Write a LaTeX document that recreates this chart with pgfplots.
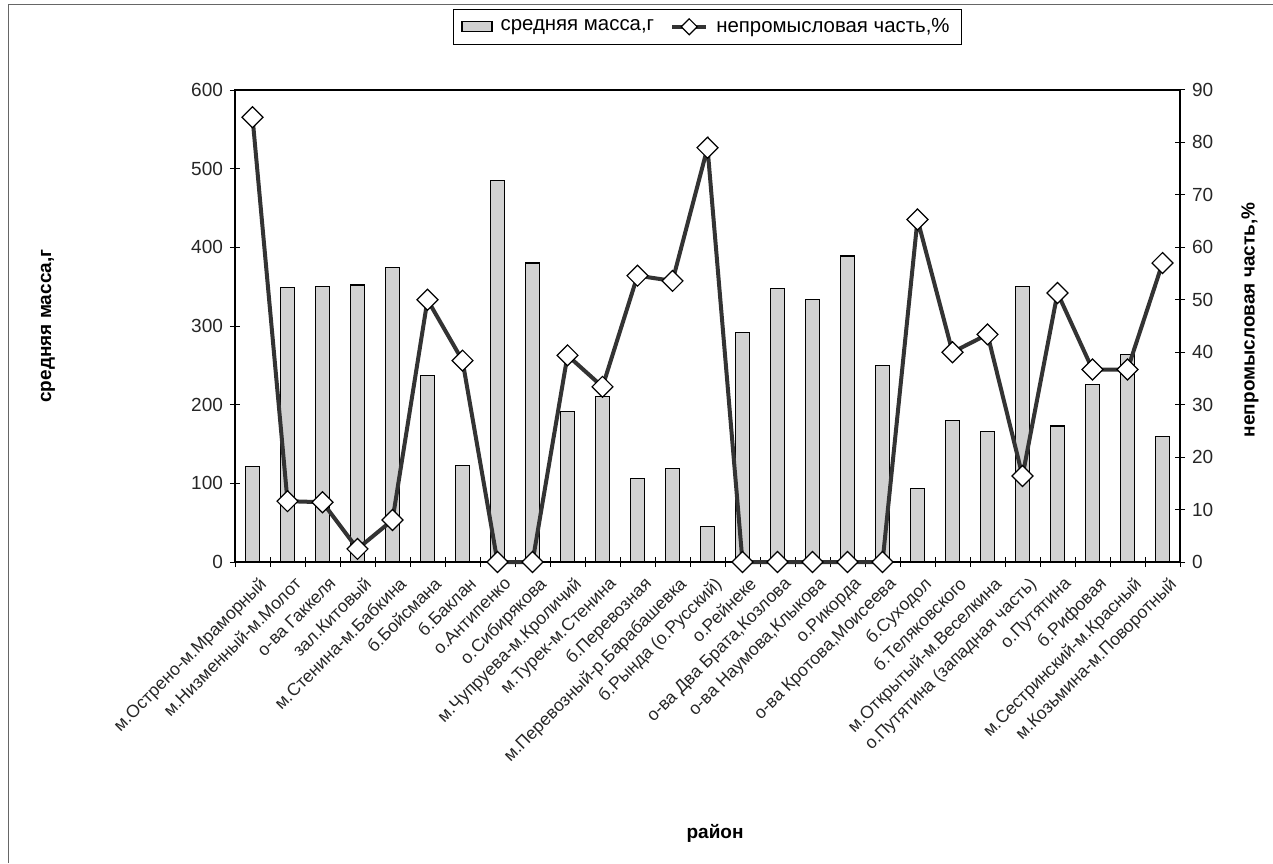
\documentclass[border=0pt]{standalone}
\usepackage{fontspec}
\setmainfont{Liberation Sans}
\usepackage{pgfplots}
\pgfplotsset{compat=1.18}
\usepackage{pgfplotstable}
\pgfplotsset{barlegend/.style={legend image code/.code={\draw[##1] (0pt,-2.5pt) rectangle (15pt,2.5pt);}}}

\pgfplotstableread{
x mass pct
1 121 84.8
2 349 11.6
3 350 11.4
4 352 2.5
5 374 8
6 237 50
7 123 38.4
8 485 0
9 380 0
10 191 39.4
11 210 33.4
12 106 54.6
13 119 53.6
14 45 79
15 292 0
16 348 0
17 334 0
18 389 0
19 250 0
20 93 65.3
21 180 40
22 166 43.4
23 350 16.4
24 173 51.3
25 226 36.7
26 264 36.7
27 160 57
}\data

\begin{document}
\begin{tikzpicture}
\useasboundingbox (0,0) rectangle (636.5pt,431.5pt);
\draw[black!60, line width=0.5pt] (4pt,0) -- (4pt,429pt) -- (636.5pt,429pt);
\begin{axis}[
  at={(117.5pt,150.5pt)}, anchor=south west,
  width=472.5pt, height=236pt, scale only axis,
  xmin=0.5, xmax=27.5, ymin=0, ymax=600,
  ytick={0,100,...,600}, ytick pos=left,
  xtick={1,...,27}, xtick pos=bottom,
  major x tick style={draw=none},
  minor xtick={0.5,1.5,...,27.5},
  tick align=center, major tick length=5pt, minor tick length=5pt,
  tick style={black, line width=0.5pt},
  axis line style={black, line width=0.6pt},
  /pgf/number format/assume math mode=true,
  yticklabel style={font=\fontsize{9.5}{11}\selectfont, text=black!85},
  xticklabels={{м.Острено-м.Мраморный},{м.Низменный-м.Молот},{о-ва Гаккеля},{зал.Китовый},{м.Стенина-м.Бабкина},{б.Бойсмана},{б.Баклан},{о.Антипенко},{о.Сибирякова},{м.Чупруева-м.Кроличий},{м.Турек-м.Стенина},{б.Перевозная},{м.Перевозный-р.Барабашевка},{б.Рында (о.Русский)},{о.Рейнеке},{о-ва Два Брата,Козлова},{о-ва Наумова,Клыкова},{о.Рикорда},{о-ва Кротова,Моисеева},{б.Суходол},{б.Теляковского},{м.Открытый-м.Веселкина},{о.Путятина (западная часть)},{о.Путятина},{б.Рифовая},{м.Сестринский-м.Красный},{м.Козьмина-м.Поворотный}},
  xticklabel style={rotate=45, anchor=north east, font=\fontsize{8.8}{10}\selectfont, text=black!85, inner sep=1pt, yshift=-4pt},
  ylabel={средняя масса,г},
  ylabel style={font=\bfseries\fontsize{9.5}{11}\selectfont, at={(axis description cs:-0.198,0.5)}, anchor=center},
  xlabel={район},
  xlabel style={font=\bfseries\fontsize{9.5}{11}\selectfont, at={(axis description cs:0.508,-0.576)}, anchor=center},
  legend style={at={(axis description cs:0.5,1.134)}, anchor=center, legend columns=2, draw=black, line width=0.5pt,
    font=\fontsize{10.2}{12}\selectfont, inner ysep=2.5pt, inner xsep=4pt,
    /tikz/every odd column/.append style={column sep=2pt},
    /tikz/every even column/.append style={column sep=6pt}},
]
\addplot[ybar, bar width=7pt, fill=black!18, draw=black, line width=0.6pt, barlegend]
  table[x=x,y=mass]{\data};
\addlegendimage{line legend, black!80, line width=2pt, mark=square*, mark size=2.8pt,
  mark options={rotate=45, fill=white, draw=black, line width=0.6pt}}
\legend{{средняя масса,г},{непромысловая часть,\%}}
\end{axis}
\begin{axis}[
  at={(117.5pt,150.5pt)}, anchor=south west,
  width=472.5pt, height=236pt, scale only axis,
  xmin=0.5, xmax=27.5, ymin=0, ymax=90,
  ytick={0,10,...,90},
  axis y line*=right, axis x line=none,
  tick align=center, major tick length=5pt,
  tick style={black, line width=0.5pt},
  axis line style={black, line width=0.6pt},
  /pgf/number format/assume math mode=true,
  yticklabel style={font=\fontsize{9.5}{11}\selectfont, text=black!85},
  ylabel={непромысловая часть,\%},
  ylabel style={font=\bfseries\fontsize{9.5}{11}\selectfont, at={(axis description cs:1.074,0.513)}, anchor=center},
  clip=false,
]
\addplot[black!80, line width=2pt, mark=square*, mark size=3.7pt,
  mark options={rotate=45, fill=white, draw=black, line width=0.6pt}]
  table[x=x,y=pct]{\data};
\end{axis}
\end{tikzpicture}
\end{document}
